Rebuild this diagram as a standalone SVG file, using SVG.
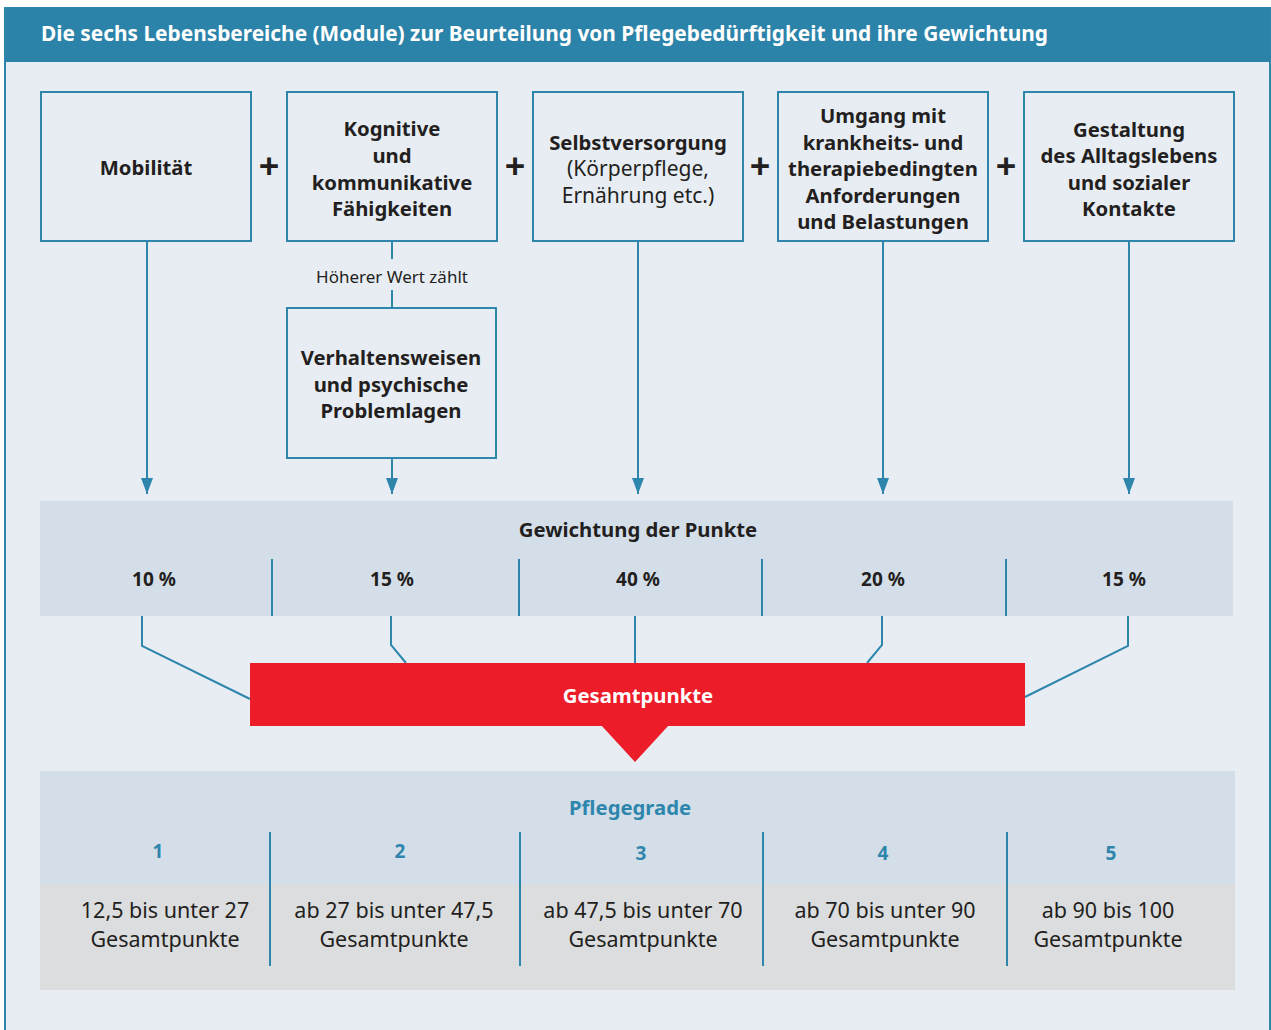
<svg xmlns="http://www.w3.org/2000/svg" width="1271" height="1030" viewBox="0 0 1271 1030">
<defs>
<style>
.t{font-family:"Noto Sans","Open Sans","Liberation Sans",sans-serif;fill:#231f20;text-anchor:middle}
.b{font-weight:bold}
.box{fill:#e8edf4;stroke:#2e86ad;stroke-width:2}
.ln{stroke:#2e86ad;stroke-width:2;fill:none}
.sep{stroke:#2e86ad;stroke-width:2}
.m{font-size:20.3px;font-weight:bold}
.pct{font-size:19px;font-weight:bold}
.rng{font-size:21.5px}
.num{font-size:19px;font-weight:bold;fill:#2e86ad}
.plus{font-size:36px;font-weight:bold}
</style>
<marker id="ah" markerUnits="userSpaceOnUse" markerWidth="16" markerHeight="12" refX="16" refY="6" orient="auto" viewBox="0 0 16 12">
<path d="M0,0 L16,6 L0,12 Z" fill="#2e86ad"/>
</marker>
</defs>
<rect x="0" y="0" width="1271" height="1030" fill="#ffffff"/>
<rect id="frame" x="5" y="8" width="1265" height="1040" fill="#e8edf4" stroke="#2e86ad" stroke-width="2"/>
<g id="header">
<rect x="5" y="8" width="1265" height="54" fill="#2c83a9"/>
<text x="41" y="41" style="font-family:'Noto Sans','Open Sans','Liberation Sans',sans-serif;font-weight:bold;font-size:21px;fill:#ffffff" textLength="1007" lengthAdjust="spacingAndGlyphs">Die sechs Lebensbereiche (Module) zur Beurteilung von Pflegebedürftigkeit und ihre Gewichtung</text>
</g>

<g id="connectors">
<line class="ln" x1="147" y1="241" x2="147" y2="494" marker-end="url(#ah)"/>
<line class="ln" x1="392" y1="241" x2="392" y2="259"/>
<line class="ln" x1="392" y1="290" x2="392" y2="308"/>
<line class="ln" x1="392" y1="458" x2="392" y2="494" marker-end="url(#ah)"/>
<line class="ln" x1="638" y1="241" x2="638" y2="494" marker-end="url(#ah)"/>
<line class="ln" x1="883" y1="241" x2="883" y2="494" marker-end="url(#ah)"/>
<line class="ln" x1="1129" y1="241" x2="1129" y2="494" marker-end="url(#ah)"/>
<polyline class="ln" points="142,616 142,646 250,699"/>
<polyline class="ln" points="391,616 391,645 406,663"/>
<line class="ln" x1="635" y1="600" x2="635" y2="663"/>
<polyline class="ln" points="882,616 882,645 867,663"/>
<polyline class="ln" points="1128,616 1128,646 1025,697"/>
<text class="t" x="392" y="283" style="font-size:17px">Höherer Wert zählt</text>
</g>

<g id="n1">
<rect class="box" x="41" y="92" width="210" height="149"/>
<text class="t m" x="146" y="175">Mobilität</text>
</g>
<text class="t plus" x="269" y="179">+</text>
<g id="n2">
<rect class="box" x="287" y="92" width="210" height="149"/>
<text class="t m" x="392" y="136">Kognitive</text>
<text class="t m" x="392" y="163">und</text>
<text class="t m" x="392" y="190">kommunikative</text>
<text class="t m" x="392" y="216">Fähigkeiten</text>
</g>
<text class="t plus" x="515" y="179">+</text>
<g id="n3">
<rect class="box" x="533" y="92" width="210" height="149"/>
<text class="t m" x="638" y="150">Selbstversorgung</text>
<text class="t" x="638" y="176" style="font-size:21px">(Körperpflege,</text>
<text class="t" x="638" y="203" style="font-size:21px">Ernährung etc.)</text>
</g>
<text class="t plus" x="760" y="179">+</text>
<g id="n4">
<rect class="box" x="778" y="92" width="210" height="149"/>
<text class="t m" x="883" y="123">Umgang mit</text>
<text class="t m" x="883" y="150">krankheits- und</text>
<text class="t m" x="883" y="176">therapiebedingten</text>
<text class="t m" x="883" y="203">Anforderungen</text>
<text class="t m" x="883" y="229">und Belastungen</text>
</g>
<text class="t plus" x="1006" y="179">+</text>
<g id="n5">
<rect class="box" x="1024" y="92" width="210" height="149"/>
<text class="t m" x="1129" y="137">Gestaltung</text>
<text class="t m" x="1129" y="163">des Alltagslebens</text>
<text class="t m" x="1129" y="190">und sozialer</text>
<text class="t m" x="1129" y="216">Kontakte</text>
</g>
<g id="n6">
<rect class="box" x="287" y="308" width="209" height="150"/>
<text class="t m" x="391" y="365">Verhaltensweisen</text>
<text class="t m" x="391" y="392">und psychische</text>
<text class="t m" x="391" y="418">Problemlagen</text>
</g>

<g id="gewichtung">
<rect x="40" y="501" width="1193" height="115" fill="#d3dee9"/>
<text class="t m" x="638" y="537">Gewichtung der Punkte</text>
<line class="sep" x1="272" y1="559" x2="272" y2="616"/>
<line class="sep" x1="519" y1="559" x2="519" y2="616"/>
<line class="sep" x1="762" y1="559" x2="762" y2="616"/>
<line class="sep" x1="1006" y1="559" x2="1006" y2="616"/>
<text class="t pct" x="154" y="586">10 %</text>
<text class="t pct" x="392" y="586">15 %</text>
<text class="t pct" x="638" y="586">40 %</text>
<text class="t pct" x="883" y="586">20 %</text>
<text class="t pct" x="1124" y="586">15 %</text>
</g>

<g id="gesamtpunkte">
<rect x="250" y="663" width="775" height="63" fill="#ed1c29"/>
<path d="M601,725 L669,725 L635,762 Z" fill="#ed1c29"/>
<text class="t m" x="638" y="703" style="fill:#ffffff">Gesamtpunkte</text>
</g>

<g id="pflegegrade">
<rect x="40" y="771" width="1195" height="113" fill="#d3dee9"/>
<rect x="40" y="884" width="1195" height="106" fill="#dcdddf"/>
<text class="t m" x="630" y="815" style="fill:#2e86ad">Pflegegrade</text>
<line class="sep" x1="270" y1="832" x2="270" y2="966"/>
<line class="sep" x1="520" y1="832" x2="520" y2="966"/>
<line class="sep" x1="763" y1="832" x2="763" y2="966"/>
<line class="sep" x1="1007" y1="832" x2="1007" y2="966"/>
<text class="t num" x="158" y="858">1</text>
<text class="t num" x="400" y="858">2</text>
<text class="t num" x="641" y="860">3</text>
<text class="t num" x="883" y="860">4</text>
<text class="t num" x="1111" y="860">5</text>
<text class="t rng" x="165" y="918">12,5 bis unter 27</text>
<text class="t rng" x="165" y="947">Gesamtpunkte</text>
<text class="t rng" x="394" y="918">ab 27 bis unter 47,5</text>
<text class="t rng" x="394" y="947">Gesamtpunkte</text>
<text class="t rng" x="643" y="918">ab 47,5 bis unter 70</text>
<text class="t rng" x="643" y="947">Gesamtpunkte</text>
<text class="t rng" x="885" y="918">ab 70 bis unter 90</text>
<text class="t rng" x="885" y="947">Gesamtpunkte</text>
<text class="t rng" x="1108" y="918">ab 90 bis 100</text>
<text class="t rng" x="1108" y="947">Gesamtpunkte</text>
</g>
</svg>
